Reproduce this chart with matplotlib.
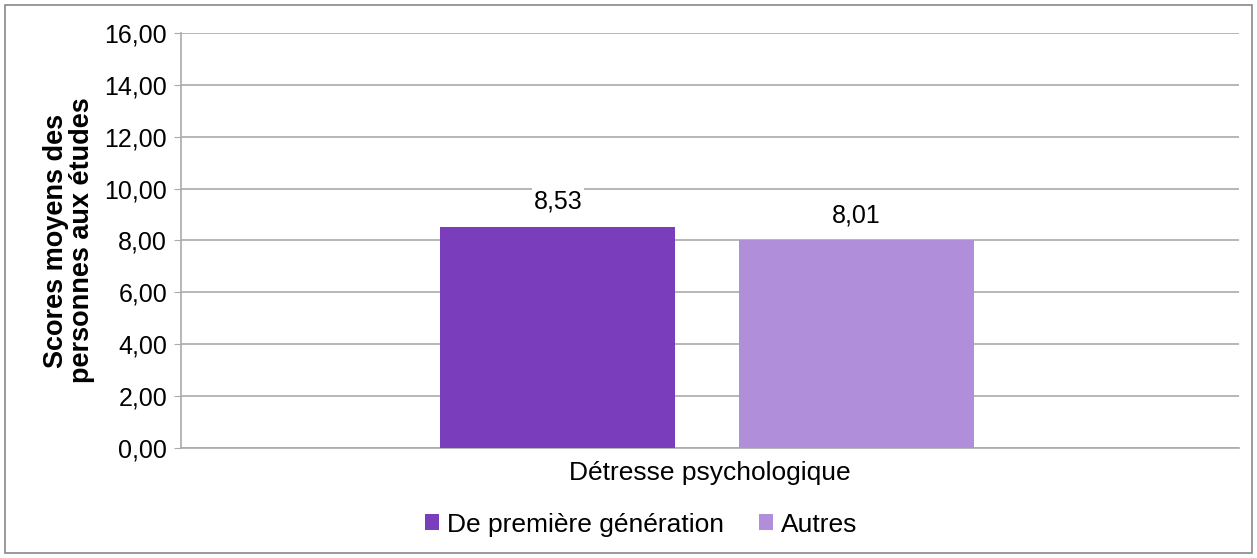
import matplotlib.pyplot as plt
from matplotlib.patches import Rectangle

categories = ["Détresse psychologique"]
series_names = ["De première génération", "Autres"]
values_first = [8.53]
values_other = [8.01]
yticks = [0, 2, 4, 6, 8, 10, 12, 14, 16]
colors = ["#7a3dbb", "#b18eda"]

plt.rcParams['font.family'] = ['Liberation Sans', 'DejaVu Sans']

fig = plt.figure(figsize=(12.57, 5.58), dpi=100, facecolor='white')
ax = fig.add_axes([0.144, 0.197, 0.842, 0.744])

# outer frame around the whole chart
fig.patches.append(Rectangle((0.004, 0.009), 0.992, 0.982, transform=fig.transFigure,
                             fill=False, edgecolor='#888888', linewidth=1.2))

x = range(len(categories))
offset = 0.141
width = 0.222
shift = -0.003
b1 = ax.bar([i - offset + shift for i in x], values_first, width, color=colors[0], label=series_names[0], zorder=3)
b2 = ax.bar([i + offset + shift for i in x], values_other, width, color=colors[1], label=series_names[1], zorder=3)

for bars, vals in ((b1, values_first), (b2, values_other)):
    for rect, v in zip(bars, vals):
        ax.text(rect.get_x() + rect.get_width() / 2, v + 0.5, f"{v:.2f}".replace('.', ','),
                ha='center', va='bottom', fontsize=18,
                bbox=dict(facecolor='white', edgecolor='none', pad=1), zorder=4)

ax.set_xlim(-0.5, 0.5)
ax.set_ylim(0, 16)
ax.set_yticks(yticks)
ax.set_yticklabels([f"{t:.2f}".replace('.', ',') for t in yticks], fontsize=18)
ax.set_xticks(list(x))
ax.set_xticklabels(categories, fontsize=19)
ax.tick_params(axis='x', length=0, pad=9)
ax.tick_params(axis='y', length=5, color='#aaaaaa', pad=5)

ax.yaxis.grid(True, color='#aaaaaa', linewidth=1.2, zorder=0)
ax.set_axisbelow(True)
for s in ('top', 'right'):
    ax.spines[s].set_visible(False)
ax.spines['left'].set_color('#aaaaaa')
ax.spines['bottom'].set_color('#aaaaaa')
ax.spines['left'].set_linewidth(1.2)
ax.spines['bottom'].set_linewidth(1.2)

ax.set_ylabel("Scores moyens des\npersonnes aux études", fontsize=19.5, fontweight='bold',
              linespacing=1.0, labelpad=7)

fig.legend(handles=[b1, b2], labels=series_names, loc='center', bbox_to_anchor=(0.51, 0.06),
           ncol=2, frameon=False, fontsize=19, handlelength=0.55, handleheight=0.55,
           handletextpad=0.3, columnspacing=1.3)

fig.savefig("out.png", dpi=100, facecolor='white')
